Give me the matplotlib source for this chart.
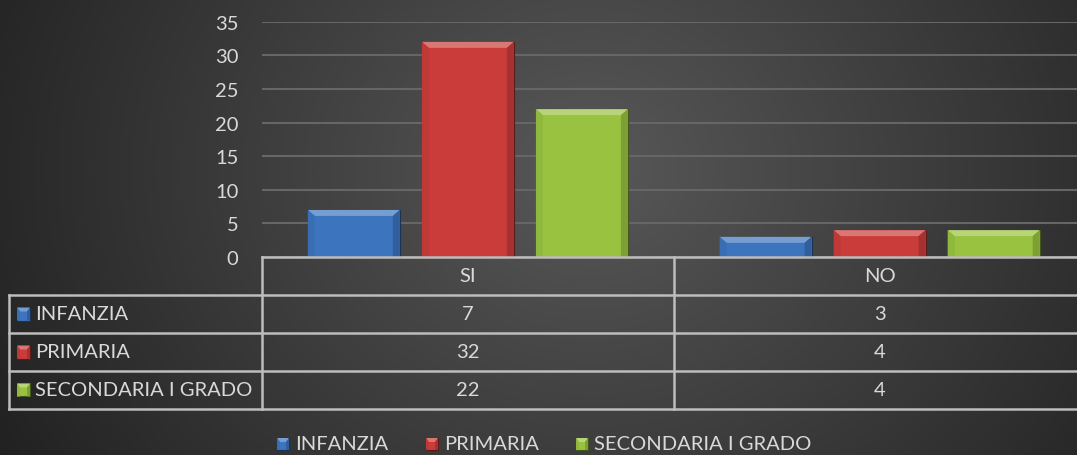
import numpy as np
import matplotlib
matplotlib.use("Agg")
import matplotlib.pyplot as plt
from matplotlib.colors import to_rgb
from matplotlib.patches import Rectangle, Polygon

plt.rcParams['font.family'] = ['Lato', 'DejaVu Sans']

categories = ["SI", "NO"]
series = ["INFANZIA", "PRIMARIA", "SECONDARIA I GRADO"]
infanzia = [7, 3]
primaria = [32, 4]
secondaria = [22, 4]
values = [infanzia, primaria, secondaria]
colors = ["#3c74bd", "#c93c3a", "#98c23f"]
yticks = [0, 5, 10, 15, 20, 25, 30, 35]

TXT = "#d9d9d9"
LINE = "#bdbdbd"
W, H = 1077, 456
FS = 14.5

# layout in pixels
L, R = 262, 1085.5
Y0, YTOP = 258, 22.7
ROW_H = 38
TAB_LEFT = 8.6


def shade(c, f):
    rgb = np.array(to_rgb(c))
    if f >= 1:
        rgb = rgb + (1 - rgb) * (f - 1)
    else:
        rgb = rgb * f
    return tuple(np.clip(rgb, 0, 1))


def bevel(axis, x0, x1, yb, yt, color, dx, dy, z=3):
    # yt is the top edge, dy is signed towards the inside of the box
    axis.add_patch(Rectangle((x0, yb), x1 - x0, yt - yb, fc=color,
                             ec=shade(color, 0.45), lw=0.8, zorder=z))
    top = [(x0, yt), (x1, yt), (x1 - dx, yt - dy), (x0 + dx, yt - dy)]
    axis.add_patch(Polygon(top, closed=True, fc=shade(color, 1.3), ec='none', zorder=z + 0.1))
    left = [(x0, yt), (x0 + dx, yt - dy), (x0 + dx, yb), (x0, yb)]
    axis.add_patch(Polygon(left, closed=True, fc=shade(color, 0.95), ec='none', zorder=z + 0.1))
    right = [(x1, yt), (x1 - dx, yt - dy), (x1 - dx, yb), (x1, yb)]
    axis.add_patch(Polygon(right, closed=True, fc=shade(color, 0.82), ec='none', zorder=z + 0.1))


fig = plt.figure(figsize=(W / 100, H / 100), dpi=100)

# background gradient
bg = fig.add_axes([0, 0, 1, 1], zorder=-10)
yy, xx = np.mgrid[0:H, 0:W]
d = np.sqrt(((xx - 590) / 600.0) ** 2 + ((yy - 170) / 520.0) ** 2)
v = np.clip(0.345 - 0.19 * d, 0.13, 1)
bg.imshow(np.dstack([v, v, v]), aspect='auto', extent=[0, W, H, 0])
bg.set_xlim(0, W)
bg.set_ylim(H, 0)
bg.axis('off')

# main chart
ax = fig.add_axes([L / W, 1 - Y0 / H, (R - L) / W, (Y0 - YTOP) / H])
ax.patch.set_alpha(0)
ax.set_xlim(-0.5, 1.5)
ax.set_ylim(0, 35)
ax.set_yticks(yticks)
ax.set_yticklabels([str(t) for t in yticks], color=TXT, fontsize=FS)
ax.tick_params(axis='y', length=0, pad=17)
ax.set_xticks([])
for s in ax.spines.values():
    s.set_visible(False)
ax.yaxis.grid(True, color="#666666", lw=1.5)
ax.set_axisbelow(True)

bw = 0.2235
step = 0.277
px_x = (R - L) / 2.0
px_y = (Y0 - YTOP) / 35.0
for i, (vals, c) in enumerate(zip(values, colors)):
    xs = np.arange(len(categories)) + (i - 1) * step
    bars = ax.bar(xs, vals, width=bw, color='none')
    for b in bars:
        x0 = b.get_x()
        bevel(ax, x0, x0 + b.get_width(), 0, b.get_height(), c,
              7 / px_x, 6 / px_y)

# table and legend overlay in pixel coordinates
tab = fig.add_axes([0, 0, 1, 1], zorder=5)
tab.set_xlim(0, W)
tab.set_ylim(H, 0)
tab.axis('off')
tab.patch.set_alpha(0)

cols = [L + (R - L) * k / 2.0 for k in range(3)]
rows = [Y0 + ROW_H * k for k in range(5)]
lw = 1.8
tab.plot([L, W], [Y0, Y0], color=LINE, lw=lw, clip_on=False)
for y in rows[1:]:
    tab.plot([TAB_LEFT, W], [y, y], color=LINE, lw=lw)
tab.plot([TAB_LEFT, TAB_LEFT], [rows[1], rows[-1]], color=LINE, lw=lw)
for x in cols[:2]:
    tab.plot([x, x], [Y0, rows[-1]], color=LINE, lw=lw)

for j, cat in enumerate(categories):
    cx = (cols[j] + cols[j + 1]) / 2
    tab.text(cx, (rows[0] + rows[1]) / 2, cat, color=TXT, fontsize=FS,
             ha='center', va='center')
    for i in range(len(series)):
        tab.text(cx, (rows[i + 1] + rows[i + 2]) / 2, str(values[i][j]), color=TXT,
                 fontsize=FS, ha='center', va='center')

for i, (name, c) in enumerate(zip(series, colors)):
    yc = (rows[i + 1] + rows[i + 2]) / 2
    bevel(tab, 17, 30, yc + 6.5, yc - 6.5, c, 3, -4, z=6)
    tab.text(35, yc, name, color=TXT, fontsize=FS, ha='left', va='center')

# legend
leg_x = [277, 426, 576]
leg_y = 445
for x, name, c in zip(leg_x, series, colors):
    bevel(tab, x, x + 12, leg_y + 6, leg_y - 6, c, 3, -4, z=6)
    tab.text(x + 18, leg_y, name, color=TXT, fontsize=FS, ha='left', va='center')

fig.savefig("out.png", dpi=100)
